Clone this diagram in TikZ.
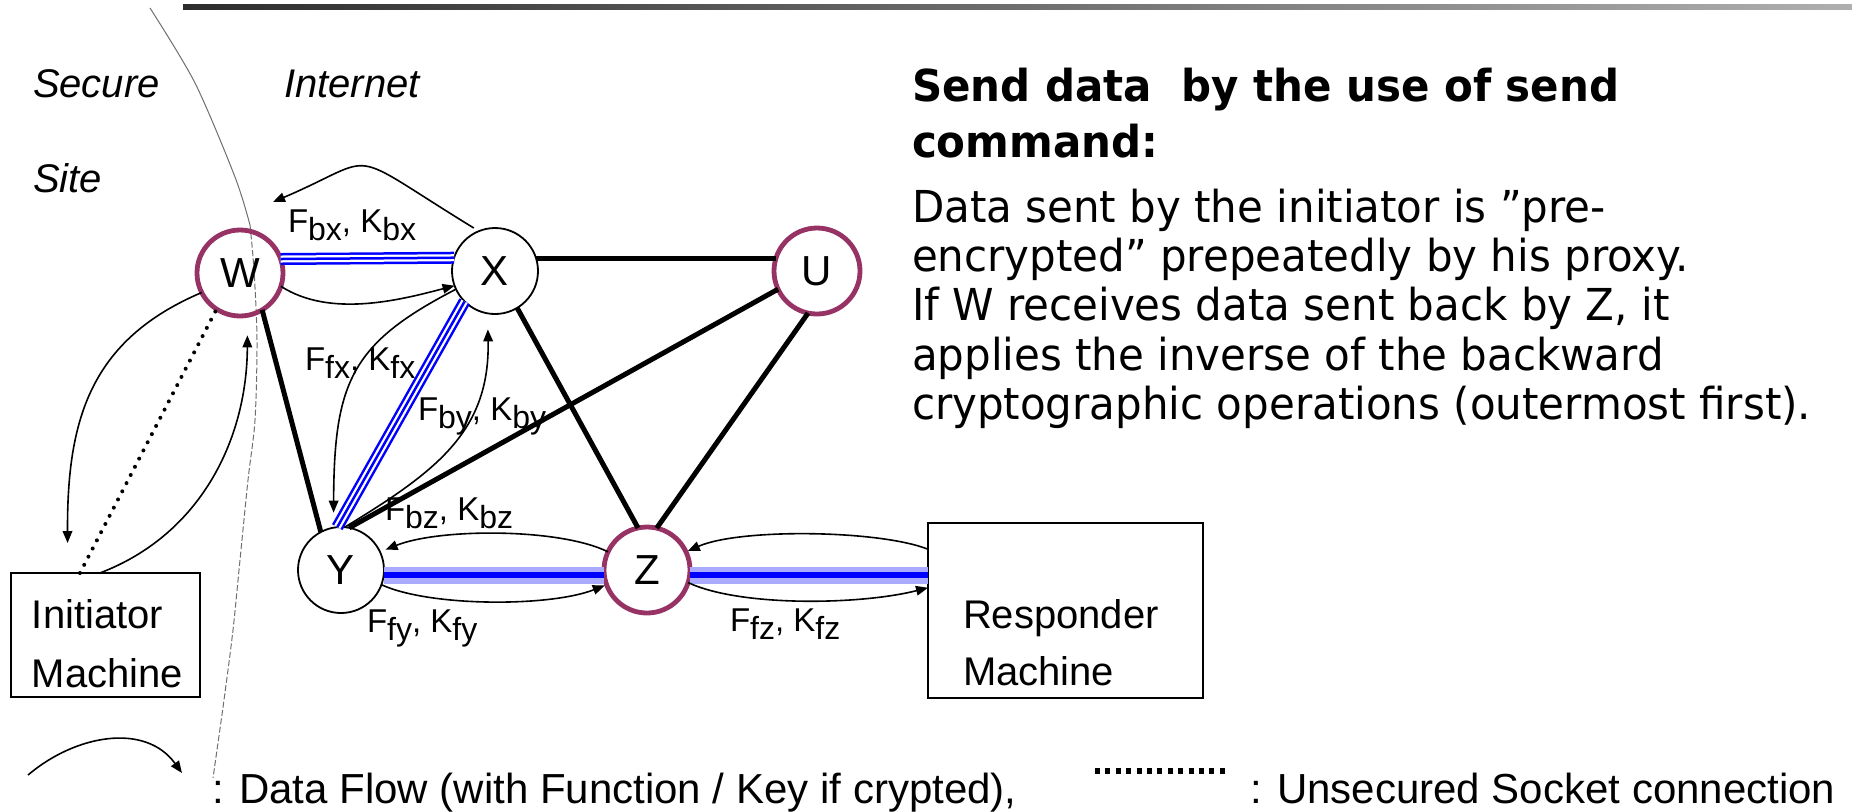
\documentclass[tikz,border=0pt]{standalone}
\usepackage{fontspec}
\setmainfont{Liberation Sans}
\newfontfamily\tfont[FakeStretch=0.954]{DejaVu Sans}
\usetikzlibrary{arrows.meta,calc}

\definecolor{proxyred}{RGB}{150,50,100}
\definecolor{bandblue}{RGB}{0,0,255}
\definecolor{halo}{RGB}{170,170,255}
\definecolor{barleft}{RGB}{45,45,45}
\definecolor{barright}{RGB}{175,175,175}
\definecolor{siteline}{RGB}{110,110,110}

% lowered subscript used in the function/key labels
\newcommand\lsb[1]{\raisebox{-0.27em}{\fontsize{16pt}{16pt}\selectfont #1}}
\newcommand\fk[1]{F\lsb{#1}, K\lsb{#1}}

\begin{document}
\begin{tikzpicture}[x=0.5pt,y=-0.5pt,
  every node/.style={inner sep=0pt,outer sep=0pt},
  proxy/.style={circle,draw=proxyred,line width=2.4pt,minimum size=43pt,
    font=\fontsize{21pt}{21pt}\selectfont},
  relay/.style={circle,draw,line width=0.9pt,minimum size=43pt,
    font=\fontsize{21pt}{21pt}\selectfont},
  machine/.style={draw,line width=1pt},
  mtext/.style={anchor=base west,font=\fontsize{20pt}{20pt}\selectfont},
  zone/.style={anchor=base west,font=\fontsize{20pt}{20pt}\selectfont\itshape},
  fklabel/.style={anchor=base west,font=\fontsize{16.5pt}{16.5pt}\selectfont},
  legend/.style={anchor=base west,font=\fontsize{21pt}{21pt}\selectfont},
  note/.style={anchor=base west,font=\tfont\fontsize{22pt}{24pt}\selectfont},
  link/.style={line width=2.5pt},
  flow/.style={line width=0.8pt,-{Triangle[length=6pt,width=4.8pt]}},
  socket/.style={line width=2pt,dash pattern=on 0pt off 4.6pt,line cap=round},
  tunnel/.style={draw=bandblue,line width=6pt,
    postaction={draw=white,line width=3.5pt},
    postaction={draw=bandblue,line width=1.25pt}},
  glow/.style={draw=halo,line width=8.5pt,
    postaction={draw=bandblue,line width=3pt}}
]
\useasboundingbox (0,0) rectangle (1852,811);

% title rule
\shade[left color=barleft,right color=barright] (183,4) rectangle (1852,9);

% border between the secure site and the internet
\draw[siteline,line width=0.5pt] plot[smooth] coordinates
  {(150,8) (195,83) (235,177) (250,225)};
\draw[siteline,line width=0.5pt,dash pattern=on 3pt off 1.2pt] plot[smooth] coordinates
  {(250,225) (254,270) (257,340) (255,420) (248,480) (240,560) (233,630) (224,700) (213,778)};

\node[zone] at (33,97) {Secure};
\node[zone] at (33,192) {Site};
\node[zone] at (284,97) {Internet};

% proxies
\node[proxy] (W) at (240,273) {W};
\node[relay] (X) at (495,271) {X};
\node[proxy] (U) at (817,271) {U};
\node[relay] (Y) at (341,570) {Y};
\node[proxy] (Z) at (647,570) {Z};

% end machines
\node[machine,minimum width=94.5pt,minimum height=62pt] (init) at (105.5,635) {};
\node[mtext] (initA) at (32,628) {Initiator};
\node[mtext] (initB) at (32,687) {Machine};
\node[machine,minimum width=137.5pt,minimum height=87.5pt] (resp) at (1065.5,610.5) {};
\node[mtext] (respA) at (963,628) {Responder};
\node[mtext] (respB) at (963,685) {Machine};

% overlay links
\draw[link] (X.17) -- (U.163);
\draw[link] (W.-59) -- (Y.118);
\draw[link] (Y.79) -- (U.205);
\draw[link] (X.-59) -- (Z.102);
\draw[link] (U.-102) -- (Z.77);

% encrypted tunnels
\path[tunnel] (W.19) -- (X.162);
\path[tunnel] (X.225) -- (Y.95);
\path[glow] (Y.-7) -- (Z.187);
\path[glow] (Z.-7) -- (Z.-7 -| resp.west);

% data flows
\coordinate (wTop) at (273,202);
\draw[flow,shorten <=3pt] (X.112) .. controls (340,146) and (383,155) .. (wTop);
\draw[flow] (W.-18) .. controls (330,318) and (400,300) .. (X.200);
\draw[flow,shorten >=7.5pt] (X.205) .. controls (352,343) and (334,381) .. (Y.100);
\draw[flow,shorten >=8pt] (Y.85) .. controls (437,471) and (490,431) .. (X.-100);
\draw[flow,shorten >=3pt] (Z.155) .. controls (560,528) and (440,528) .. (Y.25);
\draw[flow,shorten >=1pt] (Y.-20) .. controls (430,607) and (550,607) .. (Z.200);
\draw[flow,shorten >=1pt] ($(resp.north west)!0.15!(resp.south west)$)
  .. controls (880,530) and (740,528) .. (Z.25);
\draw[flow] (Z.-17) .. controls (740,607) and (860,605)
  .. ($(resp.north west)!0.37!(resp.south west)$);
\draw[flow,shorten >=15pt] (W.207) .. controls (90,340) and (67,420)
  .. ($(init.north west)!0.3!(init.north east)$);
\draw[flow,shorten >=10pt] ($(init.north west)!0.47!(init.north east)$)
  .. controls (200,535) and (247,440) .. (W.-80);
\draw[socket] ($(init.north west)!0.365!(init.north east)$) -- (W.237);

% function / key labels
\node[fklabel] (lbx) at (288,232) {\fk{bx}};
\node[fklabel] (lfx) at (305,370) {\fk{fx}};
\node[fklabel] (lby) at (418,420) {\fk{by}};
\node[fklabel] (lbz) at (385,520) {\fk{bz}};
\node[fklabel] (lfy) at (367,632) {\fk{fy}};
\node[fklabel] (lfz) at (730,631) {\fk{fz}};

% explanation
\node[note] (n1) at (912,101) {\bfseries Send data\ \ by the use of send};
\node[note] (n2) at (912,157) {\bfseries command:};
\node[note] (n3) at (912,222) {Data sent by the initiator is ”pre-};
\node[note] (n4) at (912,271) {encrypted” prepeatedly by his proxy.};
\node[note] (n5) at (912,320) {If W receives data sent back by Z, it};
\node[note] (n6) at (912,370) {applies the inverse of the backward};
\node[note] (n7) at (912,419) {cryptographic operations (outermost first).};

% legend
\coordinate (lgA) at (28,775);
\coordinate (lgB) at (182,773);
\draw[flow] (lgA) .. controls (75,735) and (145,722) .. (lgB);
\node[legend] (lg1) at (212,803) {: Data Flow (with Function / Key if crypted),};
\coordinate (ldA) at (1095,771);
\coordinate (ldB) at (1228,771);
\draw[line width=3pt,dash pattern=on 2.5pt off 2.7pt] (ldA) -- (ldB);
\node[legend] (lg2) at (1250,803) {: Unsecured Socket connection};
\end{tikzpicture}
\end{document}
